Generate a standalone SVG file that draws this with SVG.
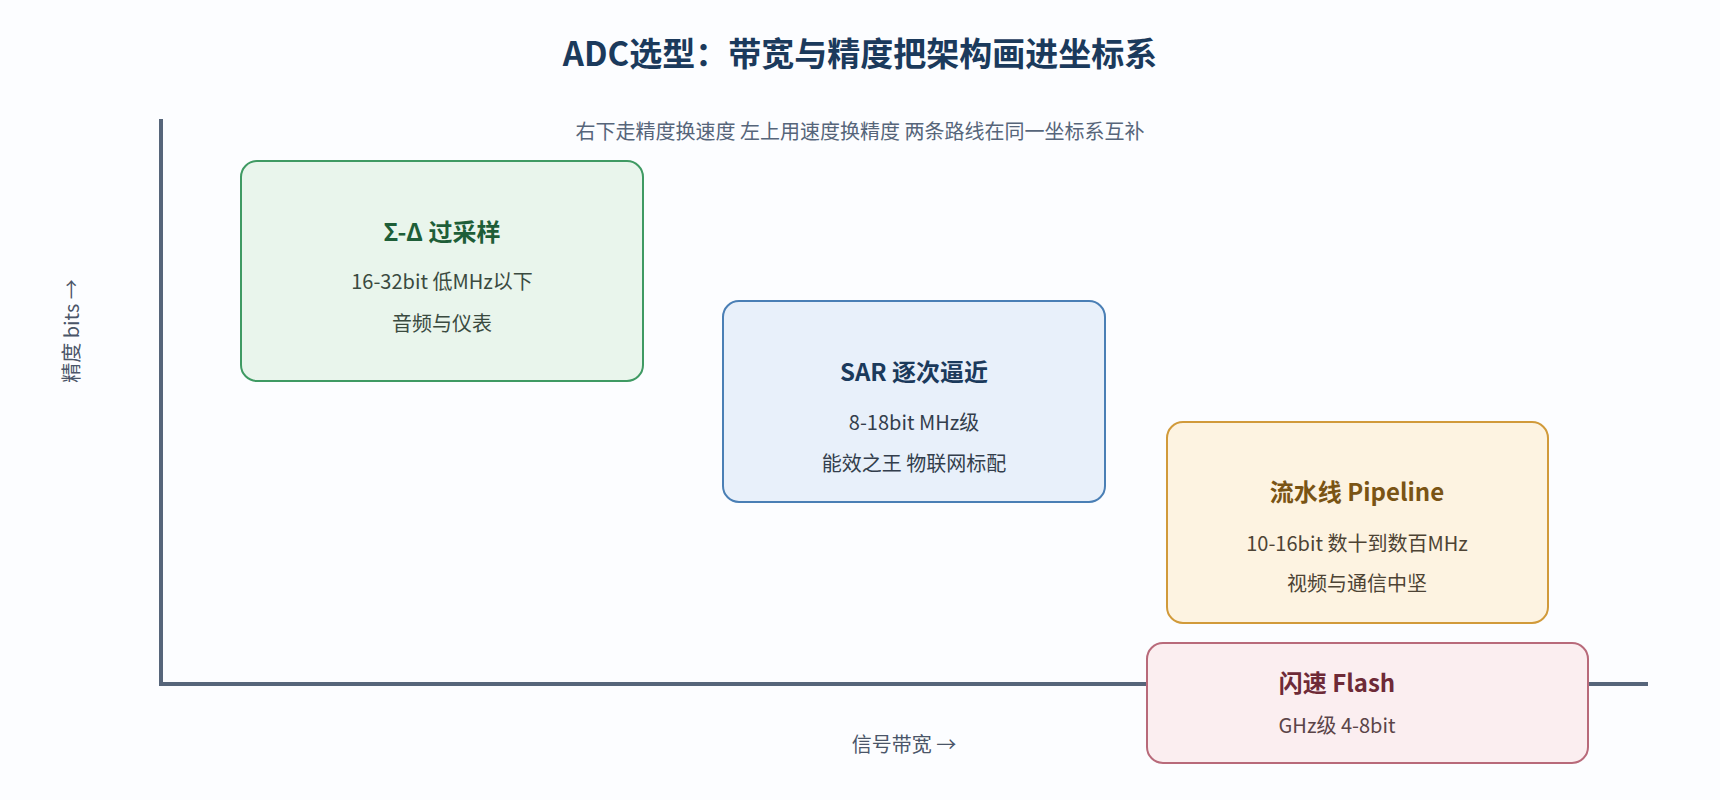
<svg xmlns="http://www.w3.org/2000/svg" width="1720" height="800" viewBox="0 0 1720 800">
<style>
text{font-family:"Noto Sans CJK SC","Noto Sans",sans-serif;text-anchor:middle}
.t{font-size:24px;font-weight:bold}
.b{font-size:20px}
.ax{stroke:#56657a;stroke-width:4;fill:none}
</style>
<rect width="1720" height="800" fill="#fcfdff"/>
<text x="860" y="66" font-size="33" font-weight="bold" fill="#1b3a5c">ADC选型：带宽与精度把架构画进坐标系</text>
<text x="860" y="139" class="b" fill="#56657a">右下走精度换速度 左上用速度换精度 两条路线在同一坐标系互补</text>
<g id="connectors">
<path class="ax" d="M161 119V684H1648"/>
</g>
<text x="0" y="0" class="b" fill="#4a5568" transform="translate(79 331) rotate(-90)">精度 bits →</text>
<text x="904" y="752" class="b" fill="#4a5568">信号带宽 →</text>
<g id="sigma">
<rect x="241" y="161" width="402" height="220" rx="16" fill="#e9f5ec" stroke="#3f9a63" stroke-width="2"/>
<text x="442" y="241" class="t" fill="#1e5e38">Σ-Δ 过采样</text>
<text x="442" y="289" class="b" fill="#3a4a3f">16-32bit 低MHz以下</text>
<text x="442" y="331" class="b" fill="#3a4a3f">音频与仪表</text>
</g>
<g id="sar">
<rect x="723" y="301" width="382" height="201" rx="16" fill="#e8f0fa" stroke="#4a7fb5" stroke-width="2"/>
<text x="914" y="381" class="t" fill="#1b3a5c">SAR 逐次逼近</text>
<text x="914" y="430" class="b" fill="#333e4c">8-18bit MHz级</text>
<text x="914" y="471" class="b" fill="#333e4c">能效之王 物联网标配</text>
</g>
<g id="pipeline">
<rect x="1167" y="422" width="381" height="201" rx="16" fill="#fdf3e1" stroke="#d19a3a" stroke-width="2"/>
<text x="1357" y="501" class="t" fill="#7a5414">流水线 Pipeline</text>
<text x="1357" y="551" class="b" fill="#4d4334">10-16bit 数十到数百MHz</text>
<text x="1357" y="591" class="b" fill="#4d4334">视频与通信中坚</text>
</g>
<g id="flash">
<rect x="1147" y="643" width="441" height="120" rx="16" fill="#fbeef0" stroke="#b86a7a" stroke-width="2"/>
<text x="1337" y="692" class="t" fill="#6e2a37">闪速 Flash</text>
<text x="1337" y="733" class="b" fill="#5a4448">GHz级 4-8bit</text>
</g>
</svg>
